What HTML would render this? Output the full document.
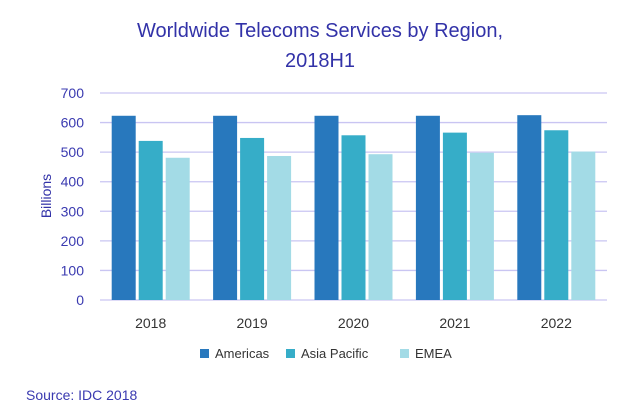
<!DOCTYPE html>
<html><head><meta charset="utf-8"><style>
body{margin:0;background:#fff;}
svg text{font-family:"Liberation Sans",sans-serif;}
</style></head><body>
<svg width="640" height="405" id="c">
<text x="320" y="37" text-anchor="middle" font-size="20" fill="#3232a8">Worldwide Telecoms Services by Region,</text>
<text x="320" y="67" text-anchor="middle" font-size="20" fill="#3232a8">2018H1</text>
<text transform="translate(51,196) rotate(-90)" text-anchor="middle" font-size="14" fill="#3232a8">Billions</text>
<text x="26" y="400" font-size="14" fill="#3a3ab0">Source: IDC 2018</text>
<g id="grid"></g><g id="bars"></g><g id="legend"></g>
</svg>
<script>
const categories=["2018","2019","2020","2021","2022"];
const americas=[623,623,623,623,625];
const asiaPacific=[538,548,557,566,574];
const emea=[481,487,493,498,502];
const seriesNames=["Americas","Asia Pacific","EMEA"];
const yTicks=[0,100,200,300,400,500,600,700];
const colors=["#2878bd","#36adc8","#a3dbe6"];
const NS="http://www.w3.org/2000/svg";
const x0=100,x1=607,y0=300,yTop=93,yMax=700;
const y=v=>y0-(v/yMax)*(y0-yTop);
const band=(x1-x0)/categories.length;
function mk(t,a,p){const e=document.createElementNS(NS,t);for(const k in a)e.setAttribute(k,a[k]);p.appendChild(e);return e;}
const grid=document.getElementById('grid');
yTicks.forEach(t=>{
 const l=mk('line',{x1:x0,x2:x1,y1:y(t),y2:y(t),stroke:'#c9c5f2','stroke-width':1.3},grid);
 
 
 const tx=mk('text',{x:84,y:y(t)+5,'text-anchor':'end','font-size':14,fill:'#3a3ab0'},grid);
 tx.textContent=t;
 
 
});
const bars=document.getElementById('bars');
const series=[americas,asiaPacific,emea];
const bw=24,gap=3;
categories.forEach((c,i)=>{
 const cx=x0+band*(i+0.5);
 series.forEach((s,j)=>{
  const bx=cx-(3*bw+2*gap)/2+j*(bw+gap);
  const r=mk('rect',{x:bx,y:y(s[i]),width:bw,height:y0-y(s[i]),fill:colors[j]},bars);
  
  
 });
 const t=mk('text',{x:cx,y:328,'text-anchor':'middle','font-size':14,fill:'#333'},bars);
 t.textContent=c;
 
 
});
const lg=document.getElementById('legend');
let lx=200;
const widths=[86,114,60];
seriesNames.forEach((n,j)=>{
 const g=mk('g',{},lg);
 
 
 mk('rect',{x:lx,y:349,width:9,height:9,fill:colors[j]},g);
 const t=mk('text',{x:lx+15,y:358,'font-size':13,fill:'#333'},g);
 t.textContent=n;
 lx+=widths[j];
});
</script>
</body></html>
